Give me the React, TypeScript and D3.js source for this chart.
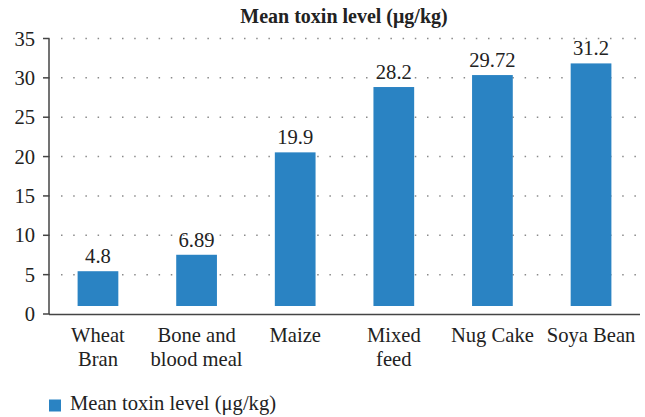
import React from "react";
import * as d3 from "d3";

const categories: string[][] = [
  ["Wheat", "Bran"],
  ["Bone and", "blood meal"],
  ["Maize"],
  ["Mixed", "feed"],
  ["Nug Cake"],
  ["Soya Bean"],
];
const values: number[] = [4.8, 6.89, 19.9, 28.2, 29.72, 31.2];
const valueLabels: string[] = ["4.8", "6.89", "19.9", "28.2", "29.72", "31.2"];
const yTicks: number[] = [0, 5, 10, 15, 20, 25, 30, 35];
const title = "Mean toxin level (μg/kg)";
const legendLabel = "Mean toxin level (μg/kg)";

const W = 645;
const H = 417;
const FONT = "'Liberation Serif', 'Times New Roman', serif";
const BAR = "#2a83c3";
const FS = 20.6;

export default function App() {
  const x = d3
    .scaleBand<number>()
    .domain(d3.range(values.length))
    .range([49, 640])
    .paddingInner(0.587)
    .paddingOuter(0.29);
  const y = d3.scaleLinear().domain([0, 35]).range([314, 38.5]);

  return (
    <svg
      width={W}
      height={H}
      style={{ position: "absolute", left: 0, top: 0, background: "#fff" }}
      fontFamily={FONT}
    >
      <text x={344} y={23} textAnchor="middle" fontWeight="bold" fontSize={20} fill="#222">
        {title}
      </text>
      {yTicks
        .filter((t) => t > 0)
        .map((t) => (
          <line
            key={"g" + t}
            x1={61}
            x2={640}
            y1={y(t)}
            y2={y(t)}
            stroke="#8a8a8a"
            strokeWidth={1.5}
            strokeDasharray="1.5 10.7"
          />
        ))}
      {yTicks.map((t) => (
        <g key={"t" + t}>
          <line x1={43} x2={49.5} y1={y(t)} y2={y(t)} stroke="#444" strokeWidth={1.5} />
          <text x={35} y={y(t)} dy="0.35em" textAnchor="end" fontSize={FS} fill="#222">
            {t}
          </text>
        </g>
      ))}
      <line x1={49} x2={49} y1={y(35)} y2={y(0)} stroke="#444" strokeWidth={1.5} />
      <line x1={49} x2={640} y1={y(0) + 0.5} y2={y(0) + 0.5} stroke="#444" strokeWidth={1.5} />
      {values.map((v, i) => {
        const top = y(v) - 5;
        const bottom = y(0) - 8;
        const cx = (x(i) as number) + x.bandwidth() / 2;
        return (
          <g key={"b" + i}>
            <rect x={x(i)} y={top} width={x.bandwidth()} height={bottom - top} fill={BAR} />
            <text x={cx} y={top - 8} textAnchor="middle" fontSize={FS} fill="#222">
              {valueLabels[i]}
            </text>
            {categories[i].map((line, j) => (
              <text key={j} x={cx} y={342 + j * 24} textAnchor="middle" fontSize={FS} fill="#222">
                {line}
              </text>
            ))}
          </g>
        );
      })}
      <rect x={49} y={399.5} width={12} height={12} fill={BAR} />
      <text x={70} y={410} fontSize={FS} fill="#222">
        {legendLabel}
      </text>
    </svg>
  );
}
